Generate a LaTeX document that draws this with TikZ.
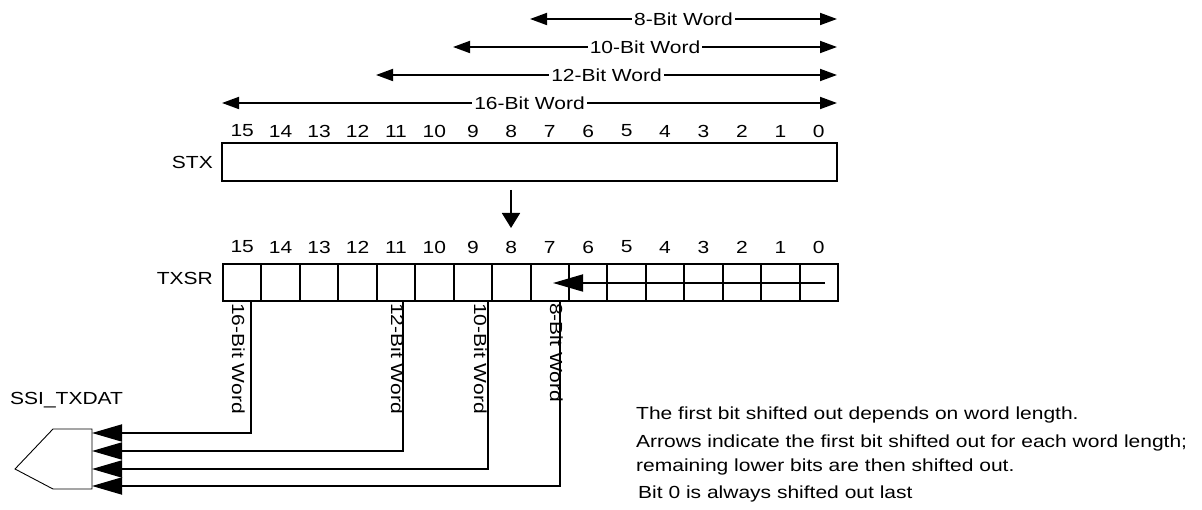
\documentclass[tikz,border=0pt]{standalone}
\usepackage{fontspec}
\setmainfont{Liberation Sans}[FakeStretch=1.2]
\usetikzlibrary{arrows.meta}

\begin{document}
\begin{tikzpicture}[
                x=1pt, y=-1pt,
                every node/.style={font=\fontsize{17.5}{21}\selectfont, inner sep=0pt},
                bitcell/.style={draw, line width=2pt, minimum width=38.44pt, minimum height=37pt},
                wordarr/.style={line width=1.8pt, {Triangle[length=17pt,width=12pt]}-{Triangle[length=17pt,width=12pt]}},
                wordlbl/.style={fill=white, inner xsep=2pt, inner ysep=1pt},
                outarr/.style={line width=1.8pt, -{Triangle[length=30pt,width=17pt]}},
                sidelbl/.style={rotate=-90, anchor=north west}
            ]

            \useasboundingbox (0,0) rectangle (1202,510);

            \foreach \n/\l/\y in {8/530/19, 10/453/47, 12/376/75, 16/222/103} {
                \coordinate (a\n) at (\l,\y);
                \coordinate (b\n) at (837,\y);
                \draw[wordarr] (a\n) -- node[wordlbl] (w\n) {\n-Bit Word} (b\n);
            }

            \node[draw, line width=2pt, minimum width=615pt, minimum height=38pt] (stx) at (529.5,162) {};
            \node[anchor=east] (stxlbl) at (213,162) {STX};

            \foreach \b in {0,...,15} {
                \node (s\b) at ({818.8-38.44*\b},131) {\b};
                \node (t\b) at ({818.8-38.44*\b},247) {\b};
                \node[bitcell] (c\b) at ({818.8-38.44*\b},282.5) {};
            }
            \node[anchor=east] (txsrlbl) at (213,278) {TXSR};

            \coordinate (dtop) at (511,190);
            \coordinate (dbot) at (511,228);
            \draw[line width=1.8pt, -{Triangle[length=15pt,width=18pt]}] (dtop) -- (dbot);

            \coordinate (shin) at (825,283);
            \coordinate (shout) at (553,283);
            \draw[line width=1.8pt, -{Triangle[length=30pt,width=17pt]}] (shin) -- (shout);

            \node[sidelbl] (v16) at (245,303) {16-Bit Word};
            \node[sidelbl] (v12) at (404,303) {12-Bit Word};
            \node[sidelbl] (v10) at (487,303) {10-Bit Word};
            \node[sidelbl] (v8) at (563,303) {8-Bit Word};

            \draw[line width=0.9pt] (15,469) -- (53,429) -- (92,429) -- (92,489) -- (53,489) -- cycle;
            \node[anchor=base west] (txdat) at (10,405) {SSI\_TXDAT};

            \foreach \n/\x/\y in {16/251/433, 12/403/451, 10/488/469, 8/560/486} {
                \coordinate (o\n) at (\x,301);
                \coordinate (i\n) at (92,\y);
                \draw[outarr] (o\n) |- (i\n);
            }

            \node[anchor=base west] (note1) at (636,420) {The first bit shifted out depends on word length.};
            \node[anchor=base west] (note2) at (636,447) {Arrows indicate the first bit shifted out for each word length;};
            \node[anchor=base west] (note3) at (636,471) {remaining lower bits are then shifted out.};
            \node[anchor=base west] (note4) at (638,498) {Bit 0 is always shifted out last};

        \end{tikzpicture}
\end{document}
